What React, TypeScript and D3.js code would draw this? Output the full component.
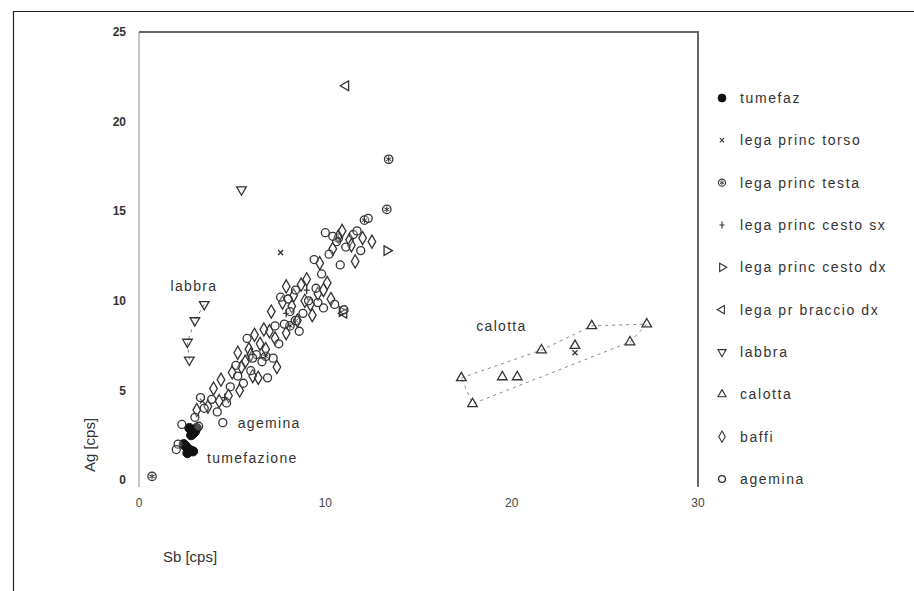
import * as d3 from "d3";

const WIDTH = 914;
const HEIGHT = 591;
const PLOT = { left: 139, right: 698, top: 32, bottom: 480, axisEnd: 487 };

const xTicks = [0, 10, 20, 30];
const yTicks = [0, 5, 10, 15, 20, 25];

// [Sb, Ag] in cps
const tumefaz = [[2.7, 2.9], [3.0, 2.7], [2.8, 2.5], [3.1, 2.9], [2.9, 2.6], [2.5, 1.9], [2.7, 1.7], [2.9, 1.6], [2.6, 1.5], [2.4, 2.0]];
const legaTorso = [[7.6, 12.7], [3.4, 4.4], [23.4, 7.1]];
const legaTesta = [[0.7, 0.2], [13.4, 17.9], [13.3, 15.1], [12.1, 14.5], [8.1, 8.6], [8.4, 8.9], [10.7, 13.5], [6.8, 6.9]];
const legaCestoSx = [[9.0, 10.6], [7.9, 9.3], [4.6, 4.6]];
const legaCestoDx = [[13.3, 12.8], [10.9, 9.4]];
const legaBraccioDx = [[11.1, 22.0], [11.0, 9.3]];
const labbra = [[3.5, 9.8], [3.0, 8.9], [2.6, 7.7], [2.7, 6.7], [5.5, 16.2]];
const calotta = [[17.3, 5.7], [19.5, 5.75], [20.3, 5.75], [17.9, 4.25], [21.6, 7.25], [23.4, 7.5], [24.3, 8.6], [27.25, 8.7], [26.35, 7.7]];
const baffi = [
  [3.1, 3.9], [3.7, 4.1], [4.0, 5.1], [4.4, 5.6], [4.8, 4.7], [5.0, 6.0], [5.4, 5.0], [5.7, 6.6], [5.9, 7.3],
  [6.2, 8.1], [6.1, 5.8], [6.5, 7.6], [6.8, 7.3], [7.0, 8.3], [7.3, 7.9], [7.1, 9.4], [7.7, 9.9], [7.9, 10.8],
  [8.2, 9.7], [8.5, 8.9], [8.3, 10.3], [8.7, 10.9], [9.0, 11.2], [9.2, 9.8], [9.6, 10.4], [9.7, 12.1], [10.1, 11.0],
  [10.4, 12.9], [10.7, 13.6], [11.3, 13.4], [11.6, 12.2], [12.0, 13.5], [6.4, 5.7], [7.4, 6.3], [5.3, 7.1],
  [10.3, 10.1], [9.3, 9.2], [12.5, 13.3], [6.0, 7.0], [6.7, 8.4], [7.9, 8.2], [8.9, 10.0], [9.9, 10.6],
  [11.4, 13.1], [10.9, 13.9], [4.3, 4.4], [5.5, 6.3],
];
const agemina = [
  [2.1, 2.0], [2.0, 1.7], [2.3, 3.1], [3.0, 3.5], [3.5, 4.0], [3.3, 4.6], [3.9, 4.5], [4.2, 3.8], [4.5, 3.2],
  [4.7, 4.3], [4.9, 5.2], [5.3, 5.8], [5.6, 5.4], [5.2, 6.4], [6.0, 6.1], [6.3, 7.0], [5.8, 7.9], [6.6, 6.6],
  [6.9, 5.7], [7.2, 6.8], [7.5, 7.6], [7.8, 8.7], [8.1, 9.4], [7.6, 10.2], [8.4, 10.6], [8.8, 9.3], [9.1, 10.0],
  [9.5, 10.7], [9.8, 11.5], [10.2, 12.6], [10.6, 13.3], [11.1, 13.0], [11.5, 13.7], [11.9, 12.8], [12.3, 14.6],
  [9.9, 9.6], [10.5, 9.8], [11.0, 9.5], [8.6, 8.3], [9.4, 12.3], [10.8, 12.0], [10.0, 13.8],
  [7.3, 8.6], [8.0, 10.1], [9.6, 9.9], [10.4, 13.6], [11.7, 13.9], [6.1, 6.8], [3.2, 3.0],
];

// dashed guides: labbra chain and calotta envelope (indices into the arrays above)
const labbraChain = [0, 1, 2, 3];
const calottaHull = [0, 4, 6, 7, 8, 3, 0];

const annotations = [
  { text: "labbra", x: 2.95, y: 10.8, anchor: "middle" },
  { text: "agemina", x: 5.3, y: 3.2, anchor: "start" },
  { text: "tumefazione", x: 3.65, y: 1.25, anchor: "start" },
  { text: "calotta", x: 18.1, y: 8.6, anchor: "start" },
];

const series = [
  { name: "tumefaz", data: tumefaz, shape: "dot" },
  { name: "lega princ torso", data: legaTorso, shape: "x" },
  { name: "lega princ testa", data: legaTesta, shape: "star" },
  { name: "lega princ cesto sx", data: legaCestoSx, shape: "plus" },
  { name: "lega princ cesto dx", data: legaCestoDx, shape: "right" },
  { name: "lega pr braccio dx", data: legaBraccioDx, shape: "left" },
  { name: "labbra", data: labbra, shape: "down" },
  { name: "calotta", data: calotta, shape: "up" },
  { name: "baffi", data: baffi, shape: "diamond" },
  { name: "agemina", data: agemina, shape: "circle" },
];

const INK = "#333";
const FONT = "'Liberation Sans', Arial, sans-serif";

function Marker({ shape, x, y, size = 1 }: { shape: string; x: number; y: number; size?: number }) {
  const t = `translate(${x},${y}) scale(${size})`;
  const common = { fill: "none", stroke: INK, strokeWidth: 1.3 };
  if (shape === "dot") return <circle cx={x} cy={y} r={4.6 * size} fill="#111" stroke="#111" />;
  if (shape === "circle") return <circle cx={x} cy={y} r={4 * size} {...common} fill="#fff" fillOpacity={0.25} />;
  if (shape === "diamond")
    return <path transform={t} d={d3.symbol(d3.symbolDiamond, 50)() || ""} {...common} fill="#fff" fillOpacity={0.25} />;
  const tri = d3.symbol(d3.symbolTriangle, 40)() || "";
  if (shape === "up") return <path transform={t} d={tri} {...common} />;
  if (shape === "down") return <path transform={`${t} rotate(180)`} d={tri} {...common} />;
  if (shape === "right") return <path transform={`${t} rotate(90)`} d={tri} {...common} />;
  if (shape === "left") return <path transform={`${t} rotate(-90)`} d={tri} {...common} />;
  if (shape === "plus") return <path transform={t} d="M0,-4V4M-3,0H3" {...common} />;
  if (shape === "x") return <path transform={t} d="M-2.5,-2.5L2.5,2.5M-2.5,2.5L2.5,-2.5" {...common} />;
  // circle with asterisk
  return (
    <g transform={t}>
      <circle r={4.2} {...common} />
      <path d="M0,-3V3M-2.6,-1.5L2.6,1.5M-2.6,1.5L2.6,-1.5" {...common} strokeWidth={1} />
    </g>
  );
}

export default function App() {
  const x = d3.scaleLinear().domain([0, 30]).range([PLOT.left, PLOT.right]);
  const y = d3.scaleLinear().domain([0, 25]).range([PLOT.bottom, PLOT.top]);
  const legendY = d3.scalePoint().domain(series.map((s) => s.name)).range([98, 479]);

  const line = d3
    .line<number[]>()
    .x((d) => x(d[0]))
    .y((d) => y(d[1]));

  return (
    <svg
      width={WIDTH}
      height={HEIGHT}
      viewBox={`0 0 ${WIDTH} ${HEIGHT}`}
      style={{ position: "absolute", left: 0, top: 0, background: "#fff", fontFamily: FONT }}
    >
      <rect width={WIDTH} height={HEIGHT} fill="#fff" />
      {/* outer scan frame */}
      <path d={`M13.5,${HEIGHT}V11.5H${WIDTH}`} fill="none" stroke="#222" strokeWidth={1.2} />

      {/* plot frame */}
      <line x1={PLOT.left} x2={PLOT.left} y1={PLOT.top} y2={PLOT.axisEnd} stroke="#c4c4c4" strokeWidth={2} />
      <path
        d={`M${PLOT.left},${PLOT.top}H${PLOT.right}V${PLOT.axisEnd}`}
        fill="none"
        stroke="#666"
        strokeWidth={2}
      />

      {yTicks.map((t) => (
        <text key={`y${t}`} x={PLOT.left - 13} y={y(t)} dy="0.35em" textAnchor="end" fontSize={12} fontWeight={600} fill="#333">
          {t}
        </text>
      ))}
      {xTicks.map((t) => (
        <text key={`x${t}`} x={x(t)} y={507} textAnchor="middle" fontSize={12} fill="#444">
          {t}
        </text>
      ))}

      <text x={190} y={562} textAnchor="middle" fontSize={15} fill={INK}>
        Sb [cps]
      </text>
      <text transform="translate(95 445) rotate(-90)" textAnchor="middle" fontSize={15} fill={INK}>
        Ag [cps]
      </text>

      {/* dashed guides */}
      <path
        d={line(labbraChain.map((i) => labbra[i])) || ""}
        fill="none"
        stroke="#777"
        strokeWidth={1}
        strokeDasharray="3 4"
      />
      <path
        d={line(calottaHull.map((i) => calotta[i])) || ""}
        fill="none"
        stroke="#888"
        strokeWidth={1}
        strokeDasharray="3 4"
      />

      {series.map((s) => (
        <g key={s.name}>
          {s.data.map((d, i) => (
            <Marker key={i} shape={s.shape} x={x(d[0])} y={y(d[1])} />
          ))}
        </g>
      ))}

      {annotations.map((a) => (
        <text
          key={a.text}
          x={x(a.x)}
          y={y(a.y)}
          dy="0.35em"
          textAnchor={a.anchor as "start" | "middle"}
          fontSize={14}
          letterSpacing={1.3}
          fill={INK}
        >
          {a.text}
        </text>
      ))}

      {/* legend */}
      {series.map((s) => {
        const ly = legendY(s.name) || 0;
        return (
          <g key={`lg-${s.name}`}>
            <Marker shape={s.shape} x={722} y={ly} size={0.85} />
            <text x={740} y={ly} dy="0.35em" fontSize={14} letterSpacing={1.6} fill={INK}>
              {s.name}
            </text>
          </g>
        );
      })}
    </svg>
  );
}
